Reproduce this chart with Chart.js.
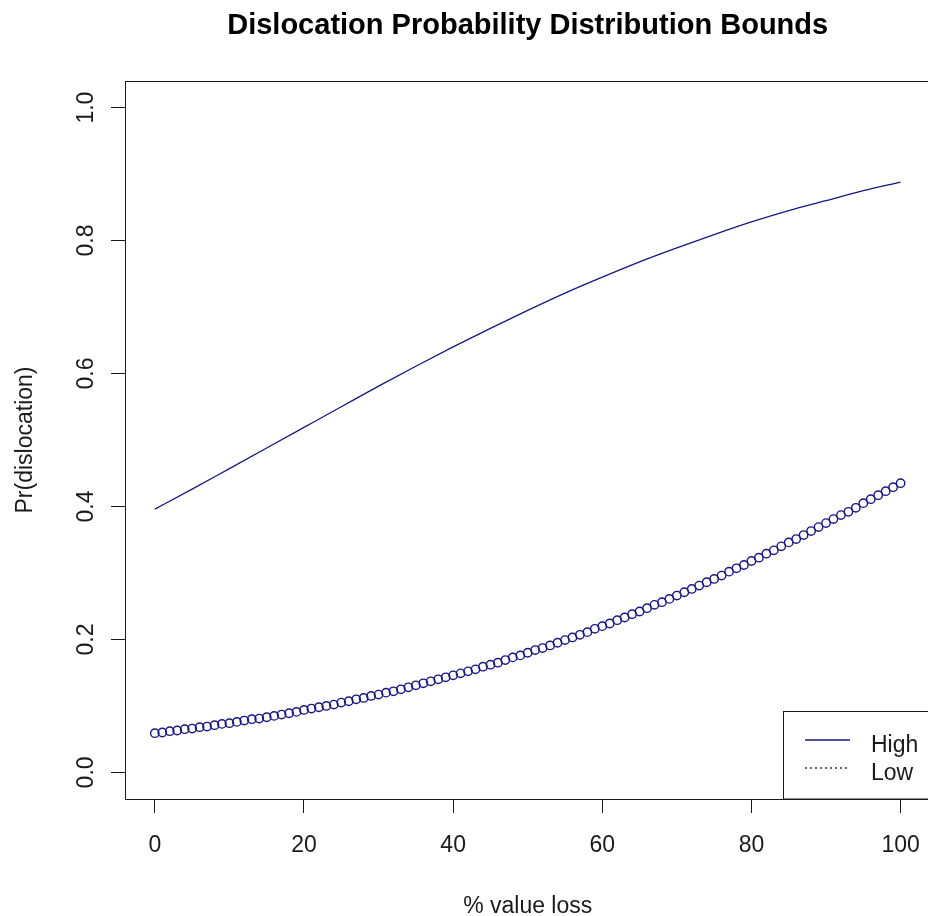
<!DOCTYPE html>
<html>
<head>
<meta charset="utf-8">
<script src="https://cdn.jsdelivr.net/npm/chart.js@4/dist/chart.umd.min.js"></script>
<style>
  html, body { margin: 0; padding: 0; background: #fff; overflow: hidden; }
  canvas { display: block; }
</style>
</head>
<body>
<canvas id="c" width="936" height="916"></canvas>
<script>
// --- data ---
const chartTitle = 'Dislocation Probability Distribution Bounds';
const xTitle = '% value loss';
const yTitle = 'Pr(dislocation)';
const xTicks = [0, 20, 40, 60, 80, 100];
const yTicks = [0, 0.2, 0.4, 0.6, 0.8, 1.0];

// upper bound, solid line
const highX = [0, 5, 10, 15, 20, 25, 30, 35, 40, 45, 50, 55, 60, 65, 70, 75, 80, 85, 90, 95, 100];
const highY = [0.396, 0.426, 0.457, 0.488, 0.519, 0.550, 0.581, 0.611, 0.640, 0.668, 0.695,
               0.721, 0.745, 0.768, 0.789, 0.809, 0.828, 0.845, 0.860, 0.875, 0.888];

// lower bound, one circle per % (0..100)
const lowY = [
  0.059, 0.060, 0.062, 0.063, 0.065, 0.066, 0.068, 0.069, 0.071, 0.073,
  0.074, 0.076, 0.078, 0.080, 0.081, 0.083, 0.085, 0.087, 0.089, 0.091,
  0.094, 0.096, 0.098, 0.100, 0.102, 0.105, 0.107, 0.110, 0.112, 0.115,
  0.117, 0.120, 0.122, 0.125, 0.128, 0.131, 0.134, 0.137, 0.140, 0.143,
  0.146, 0.149, 0.152, 0.155, 0.159, 0.162, 0.165, 0.169, 0.173, 0.176,
  0.180, 0.184, 0.187, 0.191, 0.195, 0.199, 0.203, 0.207, 0.211, 0.216,
  0.220, 0.224, 0.229, 0.233, 0.238, 0.242, 0.247, 0.252, 0.256, 0.261,
  0.266, 0.271, 0.276, 0.281, 0.286, 0.291, 0.296, 0.302, 0.307, 0.312,
  0.318, 0.323, 0.329, 0.334, 0.340, 0.346, 0.351, 0.357, 0.363, 0.369,
  0.375, 0.381, 0.387, 0.392, 0.398, 0.405, 0.411, 0.417, 0.423, 0.429,
  0.435
];

const INK = '#1a1a1a';
const NAVY = '#16168a';
const FONT = '"Liberation Sans", Arial, sans-serif';

// R-style decorations: box, rotated y labels, titles, legend
const rDecor = {
  id: 'rDecor',
  afterDraw(chart) {
    const { ctx, chartArea: a, scales } = chart;
    ctx.save();
    ctx.strokeStyle = INK;
    ctx.lineWidth = 1;
    ctx.strokeRect(a.left + 0.5, a.top + 0.5, a.right - a.left, a.bottom - a.top);

    ctx.fillStyle = INK;
    ctx.font = '23px ' + FONT;
    ctx.textAlign = 'center';
    ctx.textBaseline = 'alphabetic';
    yTicks.forEach(v => {
      ctx.save();
      ctx.translate(93, scales.y.getPixelForValue(v));
      ctx.rotate(-Math.PI / 2);
      ctx.fillText(v.toFixed(1), 0, 0);
      ctx.restore();
    });

    ctx.save();
    ctx.translate(32, (a.top + a.bottom) / 2);
    ctx.rotate(-Math.PI / 2);
    ctx.fillText(yTitle, 0, 0);
    ctx.restore();

    ctx.fillText(xTitle, (a.left + a.right) / 2, 913);

    ctx.font = 'bold 29px ' + FONT;
    ctx.fillStyle = '#000';
    ctx.fillText(chartTitle, (a.left + a.right) / 2, 34);

    // legend box, bottom right
    ctx.strokeStyle = INK;
    ctx.strokeRect(783.5, 711.5, 200, a.bottom - 711.5);
    ctx.strokeStyle = NAVY;
    ctx.lineWidth = 1.3;
    ctx.beginPath(); ctx.moveTo(805, 740); ctx.lineTo(850, 740); ctx.stroke();
    ctx.strokeStyle = '#333';
    ctx.setLineDash([2, 3]);
    ctx.beginPath(); ctx.moveTo(805, 768); ctx.lineTo(850, 768); ctx.stroke();
    ctx.setLineDash([]);
    ctx.font = '23px ' + FONT;
    ctx.fillStyle = INK;
    ctx.textAlign = 'left';
    chart.data.datasets.forEach((ds, i) => ctx.fillText(ds.label, 871, 752 + i * 28));
    ctx.restore();
  }
};

new Chart(document.getElementById('c'), {
  type: 'scatter',
  data: {
    datasets: [
      {
        label: 'High',
        data: highX.map((x, i) => ({ x, y: highY[i] })),
        showLine: true,
        borderColor: NAVY,
        borderWidth: 1.3,
        pointRadius: 0,
        cubicInterpolationMode: 'monotone',
      },
      {
        label: 'Low',
        data: lowY.map((y, i) => ({ x: i, y })),
        showLine: false,
        pointStyle: 'circle',
        pointRadius: 4.2,
        borderColor: NAVY,
        borderWidth: 1.4,
        backgroundColor: 'rgba(0,0,0,0)',
      },
    ],
  },
  options: {
    responsive: false,
    devicePixelRatio: 1,
    animation: false,
    layout: { padding: { top: 81, left: 0, right: 0, bottom: 0 } },
    plugins: { legend: { display: false }, tooltip: { enabled: false }, title: { display: false } },
    scales: {
      x: {
        type: 'linear',
        min: -4, max: 104,
        afterBuildTicks: s => { s.ticks = xTicks.map(v => ({ value: v })); },
        afterFit: s => { s.height = 117; s.paddingLeft = 0; s.paddingRight = 0; },
        ticks: { color: INK, font: { family: FONT, size: 23 }, padding: 19, maxRotation: 0, callback: v => String(v) },
        grid: { display: true, drawOnChartArea: false, drawTicks: true, tickLength: 14, color: INK, lineWidth: 1 },
        border: { display: true, color: INK, width: 1 },
      },
      y: {
        type: 'linear',
        min: -0.04, max: 1.04,
        afterBuildTicks: s => { s.ticks = yTicks.map(v => ({ value: v })); },
        afterFit: s => { s.width = 125; s.paddingTop = 0; s.paddingBottom = 0; },
        ticks: { display: false },
        grid: { display: true, drawOnChartArea: false, drawTicks: true, tickLength: 14, color: INK, lineWidth: 1 },
        border: { display: true, color: INK, width: 1 },
      },
    },
  },
  plugins: [rDecor],
});
</script>
</body>
</html>
